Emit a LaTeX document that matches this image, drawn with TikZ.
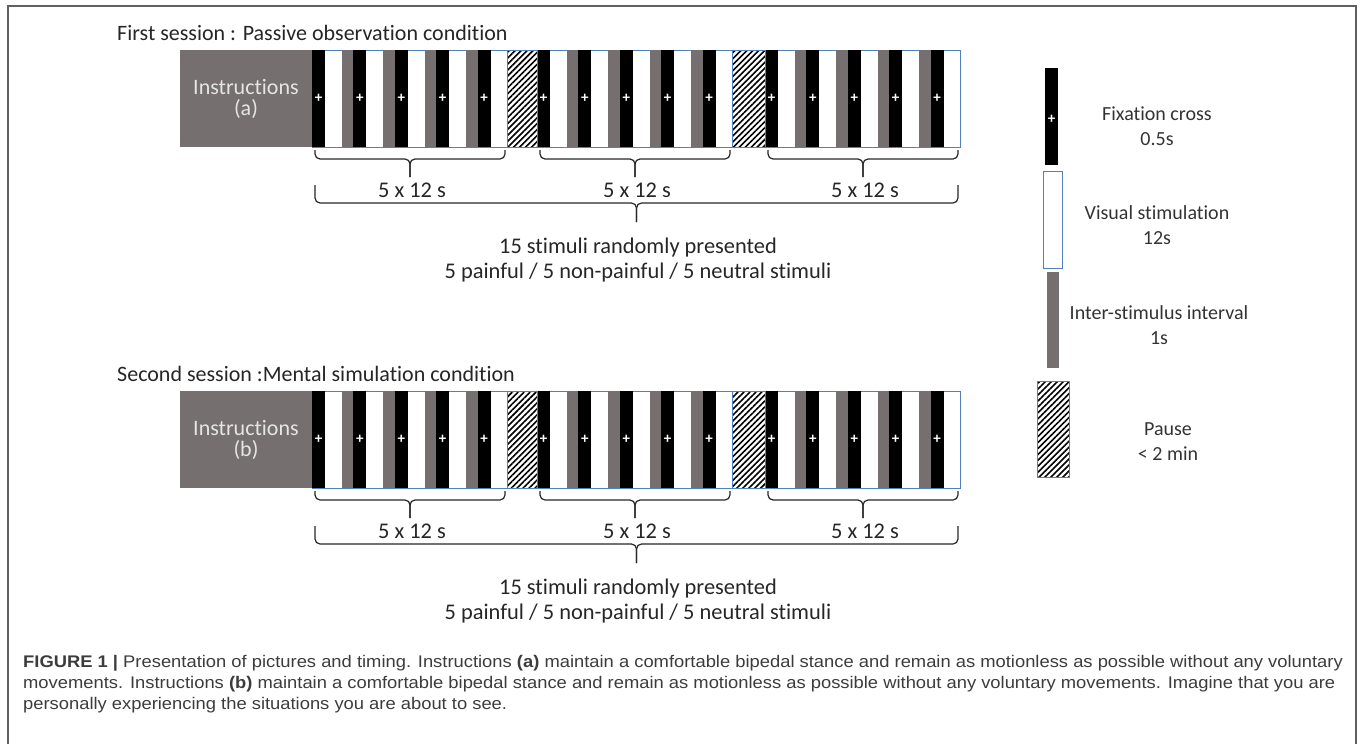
\documentclass[tikz,border=0pt]{standalone}
\usepackage{fontspec}
\setmainfont[Ligatures={NoCommon}]{Carlito}
\newfontfamily\capfont[FakeStretch=1.09]{Liberation Sans}
\usetikzlibrary{patterns.meta}

\definecolor{instrgrey}{RGB}{118,111,111}
\definecolor{stimblue}{RGB}{79,129,189}
\definecolor{captext}{RGB}{60,60,60}

\tikzset{
  framestyle/.style={draw=gray!75!black, line width=1.5pt},
  fixbar/.style={fill=black},
  isibar/.style={fill=instrgrey},
  stimbox/.style={draw=stimblue, line width=0.9pt, fill=white},
  pausebox/.style={draw=stimblue, line width=0.9pt, pattern={Lines[angle=45,distance=4.2pt,line width=1.6pt]}},
  crossmark/.style={text=white, font=\bfseries\fontsize{15}{15}\selectfont, inner sep=0pt},
  instrbox/.style={fill=instrgrey, text=gray!20, minimum width=132pt, minimum height=97pt, inner sep=0pt, align=center, font=\fontsize{22}{21}\selectfont},
  sessiontitle/.style={anchor=west, inner sep=0pt, text=black!85, font=\fontsize{22}{24}\selectfont},
  blocklabel/.style={inner sep=0pt, text=black!85, align=center, font=\fontsize{22.4}{25}\selectfont},
  legendlabel/.style={inner sep=0pt, text=black!80, align=center, font=\fontsize{20}{25}\selectfont},
  bracestyle/.style={draw=black!85, line width=1.2pt, rounded corners=5pt},
  captionline/.style={anchor=west, inner sep=0pt, text=captext, font=\capfont\fontsize{16.85}{21}\selectfont}
}

\newcommand\timebrace[5]{%
  \draw[bracestyle] (#1,#3) |- ({(#1+#2)/2},{#3+#4}) -- ++(0,#5);
  \draw[bracestyle] (#2,#3) |- ({(#1+#2)/2},{#3+#4}) -- ++(0,#5);
}

\begin{document}
\begin{tikzpicture}[x=1pt,y=-1pt]
\useasboundingbox (0,0) rectangle (1360,744);
\draw[framestyle] (8,744) -- (8,6) -- (1356,6) -- (1356,744);

\foreach \dy/\lab/\ttl in {0/a/{First session : Passive observation condition},
                           341/b/{Second session :Mental simulation condition}} {
  \node[sessiontitle] (title-\lab) at (117,33+\dy) {\ttl};
  \node[instrbox] (instr-\lab) at (246,98.5+\dy) {Instructions\\(\lab)};
  \foreach \s [count=\k] in {312,537,765} {
    \draw[stimbox] (\s,50+\dy) rectangle (\s+195.6,147+\dy);
    \foreach \i in {0,...,3}
      \fill[isibar] (\s+41.4*\i+30,50+\dy) rectangle (\s+41.4*\i+41.4,147+\dy);
    \foreach \i in {0,...,4} {
      \fill[fixbar] (\s+41.4*\i,50+\dy) rectangle (\s+41.4*\i+13,147+\dy);
      \node[crossmark] (cross-\lab-\k-\i) at (\s+41.4*\i+6.5,98.5+\dy) {+};
    }
    \timebrace{\s+3}{\s+193}{150+\dy}{9}{18}
    \node[blocklabel] (len-\lab-\k) at (\s+100,190+\dy) {5 x 12 s};
  }
  \draw[pausebox] (507.6,50+\dy) rectangle (537,147+\dy);
  \draw[pausebox] (732.6,50+\dy) rectangle (765,147+\dy);
  \timebrace{315}{958}{185+\dy}{18}{19}
  \node[blocklabel] (sum-\lab) at (638,260+\dy) {15 stimuli randomly presented\\5 painful / 5 non-painful / 5 neutral stimuli};
}

\fill[fixbar] (1045,68) rectangle (1058,165);
\node[crossmark] (cross-leg) at (1051.5,119) {+};
\draw[stimbox] (1043,171) rectangle (1062,268);
\fill[isibar] (1047,272) rectangle (1059,368);
\draw[pausebox] (1037,381) rectangle (1069,477);
\node[legendlabel] (leg-fix) at (1157,126.5) {Fixation cross\\0.5s};
\node[legendlabel] (leg-vis) at (1157,225.5) {Visual stimulation\\12s};
\node[legendlabel] (leg-isi) at (1159,325) {Inter-stimulus interval\\1s};
\node[legendlabel] (leg-pause) at (1168,441.5) {Pause\\< 2 min};

\node[captionline] (cap-1) at (23,663) {\textbf{FIGURE 1 |} Presentation of pictures and timing. Instructions \textbf{(a)} maintain a comfortable bipedal stance and remain as motionless as possible without any voluntary};
\node[captionline] (cap-2) at (23,684) {movements. Instructions \textbf{(b)} maintain a comfortable bipedal stance and remain as motionless as possible without any voluntary movements. Imagine that you are};
\node[captionline] (cap-3) at (23,705) {personally experiencing the situations you are about to see.};
\end{tikzpicture}
\end{document}
